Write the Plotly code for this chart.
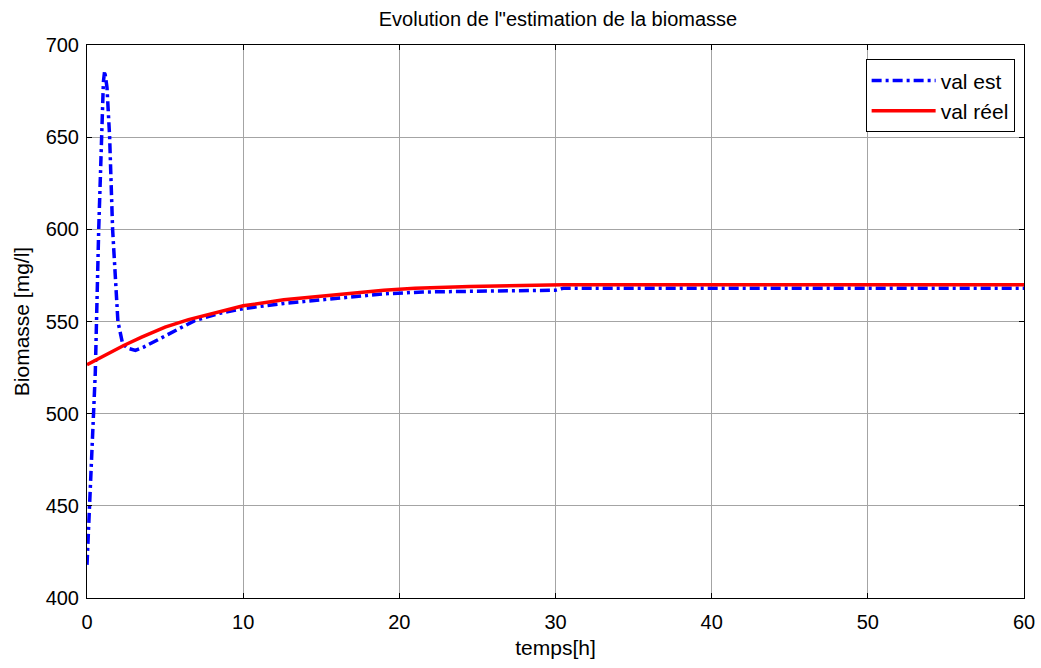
import plotly.graph_objects as go

# Estimated biomass (blue dash-dot)
t_est = [0, 0.38, 0.53, 0.75, 0.92, 1.05, 1.13, 1.28, 1.45, 1.64, 1.98, 2.28, 2.6, 3.1, 3.6, 4.7, 5.8, 6.9, 8.5, 10, 12.6, 15.8, 19, 21.5, 25, 30, 30.5, 40, 50, 60]
val_est = [418, 490, 522, 600, 650, 680, 686, 677, 650, 600, 550, 538, 535.5, 534.3, 536, 541, 546, 550.5, 554.5, 557, 559.8, 562.5, 565, 566, 566.5, 567, 568, 568, 568, 568]

# Real biomass (red solid)
t_reel = [0, 2.35, 3.5, 5, 6.5, 8.1, 10, 12.6, 15.8, 17, 19, 21, 24.5, 30.5, 40, 50, 60]
val_reel = [526.5, 537, 541.5, 547, 551, 554.5, 558.5, 561.8, 564.5, 565.5, 566.9, 568, 569, 570, 570, 570, 570]

FONT = "Liberation Sans, Arial"

fig = go.Figure()
fig.add_trace(go.Scatter(x=t_est, y=val_est, mode="lines", name="val est",
                         line=dict(color="#0000ff", width=3.5, dash="10px,4px,3px,4px")))
fig.add_trace(go.Scatter(x=t_reel, y=val_reel, mode="lines", name="val réel",
                         line=dict(color="#ff0000", width=3.5)))

axis_common = dict(
    showline=True, linecolor="black", linewidth=1, mirror="ticks",
    ticks="inside", ticklen=5, tickcolor="black",
    showgrid=True, gridcolor="#a4a4a4", gridwidth=1,
    zeroline=False,
    tickfont=dict(family=FONT, size=20, color="black"),
)

fig.update_layout(
    width=1041, height=668,
    paper_bgcolor="white", plot_bgcolor="white",
    margin=dict(l=87, r=17, t=45, b=70),
    title=dict(text="Evolution de l\"estimation de la biomasse", x=0.536, xanchor="center",
               y=0.972, yanchor="middle",
               font=dict(family=FONT, size=20, color="black")),
    xaxis=dict(range=[0, 60], tickvals=[0, 10, 20, 30, 40, 50, 60],
               ticklabelstandoff=6, automargin="bottom",
               title=dict(text="temps[h]", standoff=8,
                          font=dict(family=FONT, size=21, color="black")),
               **axis_common),
    yaxis=dict(range=[400, 700], tickvals=[400, 450, 500, 550, 600, 650, 700],
               ticklabelstandoff=3, automargin="left",
               title=dict(text="Biomasse [mg/l]", standoff=10,
                          font=dict(family=FONT, size=21, color="black")),
               **axis_common),
    legend=dict(x=0.990, y=0.974, xanchor="right", yanchor="top",
                bgcolor="white", bordercolor="black", borderwidth=1,
                font=dict(family=FONT, size=21, color="black"),
                itemwidth=64, tracegroupgap=10),
    showlegend=True,
)

fig.write_html("out.html")
